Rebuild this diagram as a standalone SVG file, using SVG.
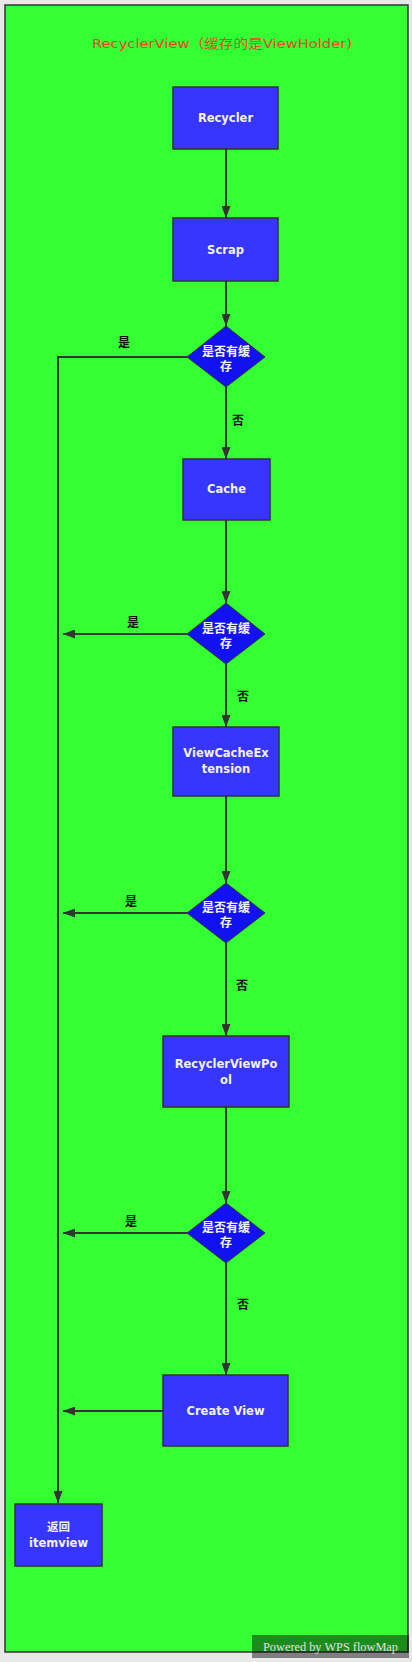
<svg xmlns="http://www.w3.org/2000/svg" width="412" height="1662" viewBox="0 0 412 1662">
<style>
.box{fill:#3636ff;stroke:#333;stroke-width:1.5}
.dia{fill:#1212f0;stroke:#333;stroke-width:1}
.t{font-family:"DejaVu Sans","Noto Sans CJK SC",sans-serif;font-size:11.5px;font-weight:bold;fill:#f2f2ff;text-anchor:middle;dominant-baseline:central}
.dt{font-family:"Noto Sans CJK SC",sans-serif;font-size:12px;font-weight:bold;fill:#f2f2ff;text-anchor:middle;dominant-baseline:central}
.lb{font-family:"Noto Sans CJK SC",sans-serif;font-size:12px;font-weight:bold;fill:#111;text-anchor:middle;dominant-baseline:central}
.c{fill:none;stroke:#333;stroke-width:2}
</style>
<defs>
<marker id="ah" markerUnits="userSpaceOnUse" markerWidth="12" markerHeight="9" refX="12" refY="4.5" orient="auto">
<path d="M0,0 L12,4.5 L0,9 z" fill="#333"/>
</marker>
</defs>
<rect x="0" y="0" width="412" height="1662" fill="#e8e8e8"/>
<rect x="5" y="5" width="403" height="1647" fill="#33ff33" stroke="#333" stroke-width="1.5"/>
<text x="222" y="43" font-family="DejaVu Sans,'Noto Sans CJK SC',sans-serif" font-size="13" fill="#e8452a" text-anchor="middle" dominant-baseline="central" textLength="260" lengthAdjust="spacingAndGlyphs">RecyclerView（缓存的是ViewHolder)</text>

<g id="connectors">
<path class="c" d="M226,149 V218" marker-end="url(#ah)"/>
<path class="c" d="M226,281 V326" marker-end="url(#ah)"/>
<path class="c" d="M187,357 H58 V1503" marker-end="url(#ah)"/>
<path class="c" d="M226,387 V459" marker-end="url(#ah)"/>
<path class="c" d="M226,520 V603" marker-end="url(#ah)"/>
<path class="c" d="M187,634 H63" marker-end="url(#ah)"/>
<path class="c" d="M226,664 V727" marker-end="url(#ah)"/>
<path class="c" d="M226,796 V883" marker-end="url(#ah)"/>
<path class="c" d="M187,913 H63" marker-end="url(#ah)"/>
<path class="c" d="M226,943 V1036" marker-end="url(#ah)"/>
<path class="c" d="M226,1107 V1203" marker-end="url(#ah)"/>
<path class="c" d="M187,1233 H63" marker-end="url(#ah)"/>
<path class="c" d="M226,1263 V1375" marker-end="url(#ah)"/>
<path class="c" d="M163,1411 H63" marker-end="url(#ah)"/>
<text class="lb" x="124" y="341">是</text>
<text class="lb" x="238" y="419">否</text>
<text class="lb" x="133" y="621">是</text>
<text class="lb" x="243" y="695">否</text>
<text class="lb" x="131" y="900">是</text>
<text class="lb" x="242" y="984">否</text>
<text class="lb" x="131" y="1220">是</text>
<text class="lb" x="243" y="1303">否</text>
</g>

<g id="recycler"><rect class="box" x="173" y="87" width="105" height="62"/><text class="t" x="225.5" y="118">Recycler</text></g>
<g id="scrap"><rect class="box" x="173" y="218" width="105" height="63"/><text class="t" x="225.5" y="250">Scrap</text></g>
<g id="d1"><polygon class="dia" points="226,326 265,357 226,387 187,357"/><text class="dt" x="226" y="350">是否有缓</text><text class="dt" x="226" y="365">存</text></g>
<g id="cache"><rect class="box" x="183" y="459" width="87" height="61"/><text class="t" x="226.5" y="489">Cache</text></g>
<g id="d2"><polygon class="dia" points="226,603 265,634 226,664 187,634"/><text class="dt" x="226" y="627">是否有缓</text><text class="dt" x="226" y="642">存</text></g>
<g id="vce"><rect class="box" x="173" y="727" width="106" height="69"/><text class="t" x="226" y="753">ViewCacheEx</text><text class="t" x="226" y="769">tension</text></g>
<g id="d3"><polygon class="dia" points="226,883 265,913 226,943 187,913"/><text class="dt" x="226" y="906">是否有缓</text><text class="dt" x="226" y="921">存</text></g>
<g id="rvp"><rect class="box" x="163" y="1036" width="126" height="71"/><text class="t" x="226" y="1064">RecyclerViewPo</text><text class="t" x="226" y="1080">ol</text></g>
<g id="d4"><polygon class="dia" points="226,1203 265,1233 226,1263 187,1233"/><text class="dt" x="226" y="1226">是否有缓</text><text class="dt" x="226" y="1241">存</text></g>
<g id="create"><rect class="box" x="163" y="1375" width="125" height="71"/><text class="t" x="225.5" y="1411">Create View</text></g>
<g id="ret"><rect class="box" x="15" y="1504" width="87" height="62"/><text class="t" x="58.5" y="1527">返回</text><text class="t" x="58.5" y="1543">itemview</text></g>

<g id="watermark">
<rect x="252" y="1635" width="157" height="23" fill="#000" fill-opacity="0.45"/>
<text x="263" y="1651" font-family="Liberation Serif,serif" font-size="12" fill="#e0e0e0" textLength="135" lengthAdjust="spacingAndGlyphs">Powered by WPS flowMap</text>
</g>
</svg>
